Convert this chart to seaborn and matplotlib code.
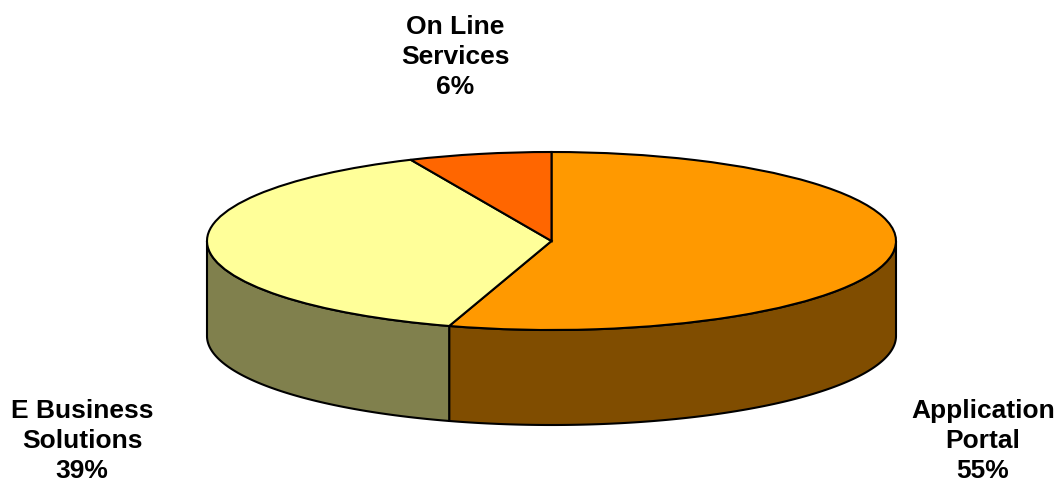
import numpy as np
import matplotlib
matplotlib.use("Agg")
import matplotlib.pyplot as plt
import seaborn as sns

categories = ["Application\nPortal", "E Business\nSolutions", "On Line\nServices"]
values = [54.8, 38.5, 6.7]
pct_labels = ["55%", "39%", "6%"]
top_colors = ["#FF9900", "#FFFF99", "#FF6600"]
side_colors = ["#804D00", "#80804D", "#803300"]

W, H = 1060, 484
CX, CY, RX, RY, DEPTH = 551.5, 241, 344.5, 89, 95

sns.set_theme(style="white")
plt.rcParams["font.family"] = ["Liberation Sans", "DejaVu Sans"]

fig = plt.figure(figsize=(W / 100, H / 100), dpi=100, facecolor="white")
ax = fig.add_axes([0, 0, 1, 1])

# front wall, derived from the same shares as the top face
fractions = np.array(values) / np.sum(values)
bounds = 90 - 360 * np.concatenate([[0], np.cumsum(fractions)])
d = DEPTH / RY
for i, col in enumerate(side_colors):
    hi, lo = bounds[i], bounds[i + 1]
    # front half of the ellipse is 180..360 deg, i.e. -180..0
    a = max(lo, -180)
    b = min(hi, 0)
    if b <= a:
        continue
    t = np.radians(np.linspace(a, b, 200))
    x = np.cos(t)
    y = np.sin(t)
    ax.fill(np.r_[x, x[::-1]], np.r_[y, y[::-1] - d], facecolor=col,
            edgecolor="black", linewidth=1.5, joinstyle="round")

ax.pie(values, colors=top_colors, startangle=90, counterclock=False, radius=1,
       wedgeprops={"edgecolor": "black", "linewidth": 1.5})

ax.set_aspect("auto")
ax.set_xlim((0 - CX) / RX, (W - CX) / RX)
ax.set_ylim((CY - H) / RY, CY / RY)
ax.axis("off")

# labels
label_pos = [(983, 441), (82, 441), (455, 57)]
for cat, p, (px, py) in zip(categories, pct_labels, label_pos):
    ax.text((px - CX) / RX, (CY - py) / RY, f"{cat}\n{p}", ha="center", va="center",
            fontsize=19, fontweight="bold", color="black", linespacing=1.33)

fig.savefig("out.png", dpi=100)
